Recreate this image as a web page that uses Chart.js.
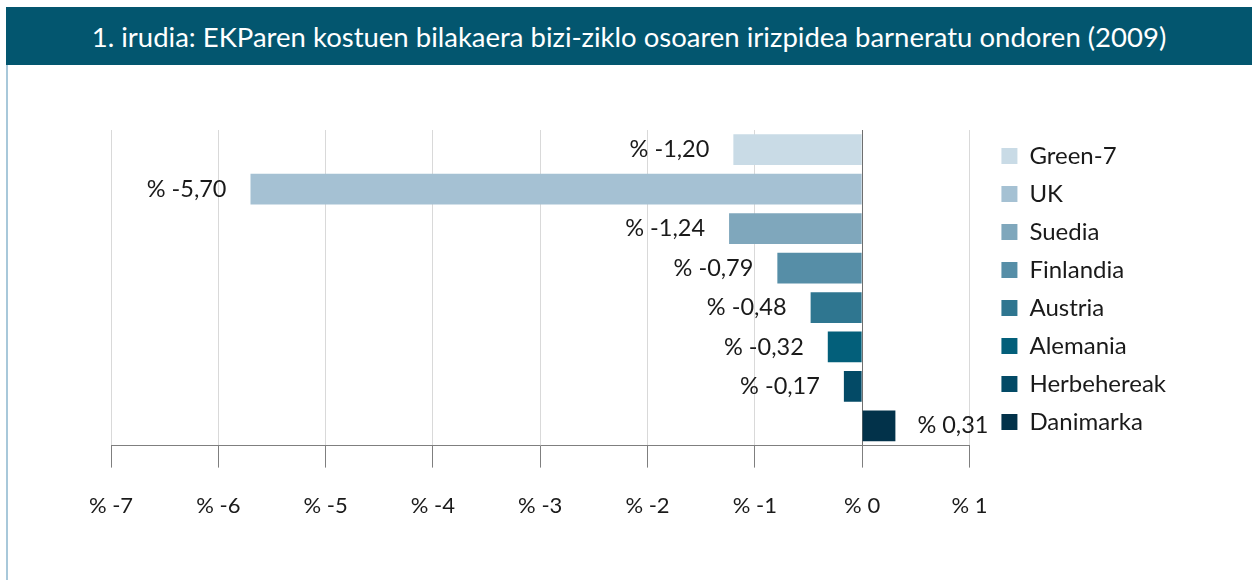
<!DOCTYPE html>
<html><head><meta charset="utf-8">
<script src="https://cdn.jsdelivr.net/npm/chart.js@4.4.0/dist/chart.umd.min.js"></script>
<style>
html,body{margin:0;padding:0;background:#fff;width:1252px;height:580px;overflow:hidden;font-family:Lato,sans-serif}
#hdr{position:absolute;left:6px;top:7px;width:1246px;height:58px;background:#03566f;color:#fff;font:27.5px Lato,sans-serif;display:flex;align-items:center;justify-content:center}
#bl{position:absolute;left:6px;top:65px;width:2px;height:515px;background:#a8c8da}
#wrap{position:absolute;left:8px;top:66px;width:1244px;height:514px}
</style></head><body>
<div id="hdr">1. irudia: EKParen kostuen bilakaera bizi-ziklo osoaren irizpidea barneratu ondoren (2009)</div>
<div id="bl"></div>
<div id="wrap"><canvas id="c"></canvas></div>
<script>
const categories = ['Green-7','UK','Suedia','Finlandia','Austria','Alemania','Herbehereak','Danimarka'];
const values = [-1.20,-5.70,-1.24,-0.79,-0.48,-0.32,-0.17,0.31];
const colors = ['#c9dbe6','#a5c1d3','#7fa7bc','#568ea7','#2f7690','#035f7a','#034a66','#02324a'];
const xMin = -7, xMax = 1, xStep = 1;

const fmt = v => '% ' + v.toFixed(2).replace('.', ',');

const barLabels = {
  id: 'barLabels',
  afterDatasetsDraw(chart) {
    const ctx = chart.ctx;
    const meta = chart.getDatasetMeta(0);
    ctx.save();
    ctx.font = '23.5px Lato, sans-serif';
    ctx.fillStyle = '#1a1a1a';
    ctx.textBaseline = 'middle';
    meta.data.forEach((bar, i) => {
      const v = values[i];
      if (v < 0) { ctx.textAlign = 'right'; ctx.fillText(fmt(v), bar.x - 24, bar.y); }
      else { ctx.textAlign = 'left'; ctx.fillText(fmt(v), bar.x + 22, bar.y); }
    });
    ctx.restore();
  }
};
const legendShift = {
  id: 'legendShift',
  afterLayout(chart) {
    const l = chart.legend;
    if (l) { l.left += 18; l.right += 18; }
  }
};

new Chart(document.getElementById('c'), {
  type: 'bar',
  data: {
    labels: categories,
    datasets: [{ data: values, backgroundColor: colors, borderWidth: 0, barPercentage: 0.78, categoryPercentage: 1 }]
  },
  options: {
    indexAxis: 'y',
    responsive: true,
    maintainAspectRatio: false,
    animation: false,
    layout: { padding: { left: 103, top: 64, bottom: 36, right: 94 } },
    scales: {
      x: {
        min: xMin, max: xMax,
        ticks: { stepSize: xStep, callback: v => '% ' + v, font: { family: 'Lato', size: 22 }, color: '#1a1a1a', padding: 25 },
        grid: {
          color: ctx => (ctx.tick && ctx.tick.value === 0) ? '#6f6f6f' : '#d9d9d9',
          tickColor: '#7f7f7f', tickLength: 22, lineWidth: 1
        },
        border: { color: '#7f7f7f', width: 1 }
      },
      y: { display: false }
    },
    plugins: {
      tooltip: { enabled: false },
      legend: {
        position: 'right',
        align: 'start',
        labels: {
          boxWidth: 16, boxHeight: 16, padding: 14,
          color: '#1a1a1a',
          font: { family: 'Lato', size: 24 },
          generateLabels: () => categories.map((c, i) => ({
            text: c, fillStyle: colors[i], strokeStyle: colors[i], lineWidth: 0, hidden: false, index: i, datasetIndex: 0, fontColor: '#1a1a1a'
          }))
        }
      }
    }
  },
  plugins: [barLabels, legendShift]
});
</script>
</body></html>
